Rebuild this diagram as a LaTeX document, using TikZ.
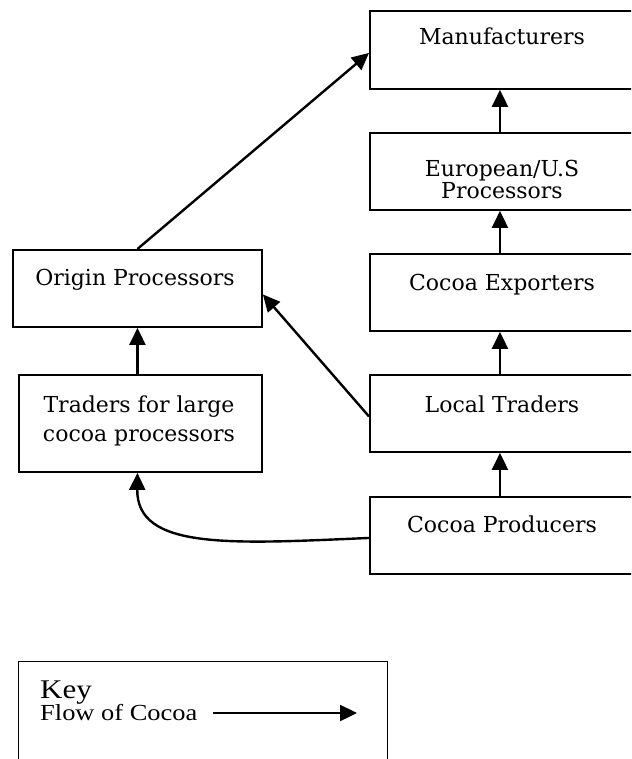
\documentclass[tikz,border=0pt]{standalone}
\usepackage{fontspec}
\usetikzlibrary{arrows.meta}
\newfontfamily\boxfont{DejaVu Serif}
\newfontfamily\keyfont[FakeStretch=1.15]{Liberation Serif}
\begin{document}
\begin{tikzpicture}[x=1pt,y=-1pt,
  stage/.style={draw=black, line width=1.9pt, rectangle, inner sep=0pt,
    anchor=north west, minimum width=264pt, minimum height=77pt},
  lbl/.style={inner sep=0pt, anchor=base, align=center,
    font=\boxfont\fontsize{22}{22}\selectfont},
  flow/.style={line width=2.4pt, -{Triangle[length=17pt,width=16pt]}}]
  \fill[white] (0,0) rectangle (631,759);
  \useasboundingbox (0,0) rectangle (631,759);
  \clip (0,0) rectangle (631,759);

  % supply chain stages (right column)
  \node[stage, minimum height=78pt] (man) at (369,10) {};
  \node[stage] (eur) at (369,132) {};
  \node[stage] (exp) at (369,253) {};
  \node[stage] (loc) at (369,374) {};
  \node[stage] (pro) at (369,496) {};
  % left column
  \node[stage, minimum width=249pt] (ori) at (12,249) {};
  \node[stage, minimum width=243pt, minimum height=97pt] (trd) at (18,374) {};

  % stage names (base = baseline of the last line)
  \node[lbl] (manT) at (502,45) {Manufacturers};
  \node[lbl] (eurT) at (502,199) {European/U.S\\Processors};
  \node[lbl] (expT) at (502,290) {Cocoa Exporters};
  \node[lbl] (locT) at (502,412) {Local Traders};
  \node[lbl] (proT) at (502,532) {Cocoa Producers};
  \node[lbl] (oriT) at (135,285) {Origin Processors};
  \node[lbl, font=\boxfont\fontsize{22}{29}\selectfont] (trdT) at (139,441)
    {Traders for large\\cocoa processors};

  % flows of cocoa
  \draw[flow] ([xshift=-2pt]pro.north) -- ([xshift=-2pt]loc.south);
  \draw[flow] ([xshift=-2pt]loc.north) -- ([xshift=-2pt]exp.south);
  \draw[flow] ([xshift=-2pt]exp.north) -- ([xshift=-2pt]eur.south);
  \draw[flow] ([xshift=-2pt]eur.north) -- ([xshift=-2pt]man.south);
  \draw[flow] ([xshift=-3pt]trd.north) -- (ori.south);
  \draw[flow] (ori.north) -- ([yshift=-3pt]man.west);
  \draw[flow] ([yshift=-3pt]loc.west) -- ([yshift=-6pt]ori.east);
  \draw[flow] ([yshift=-2.5pt]pro.west) .. controls (230,544) and (136.5,550)
    .. ([xshift=-3pt]trd.south);

  % key
  \node[draw=black, line width=1.4pt, rectangle, inner sep=0pt, anchor=north west,
    minimum width=369pt, minimum height=120pt] (key) at (18,661) {};
  \node[inner sep=0pt, anchor=base west, text depth=0pt,
    font=\keyfont\fontsize{27}{27}\selectfont] (keyT) at (40,698) {Key};
  \node[inner sep=0pt, anchor=base west, font=\keyfont\fontsize{23}{23}\selectfont]
    (keyF) at (40,720) {Flow of Cocoa};
  \coordinate (ka) at (213,713);
  \coordinate (kb) at (357,713);
  \draw[flow] (ka) -- (kb);
\end{tikzpicture}
\end{document}
